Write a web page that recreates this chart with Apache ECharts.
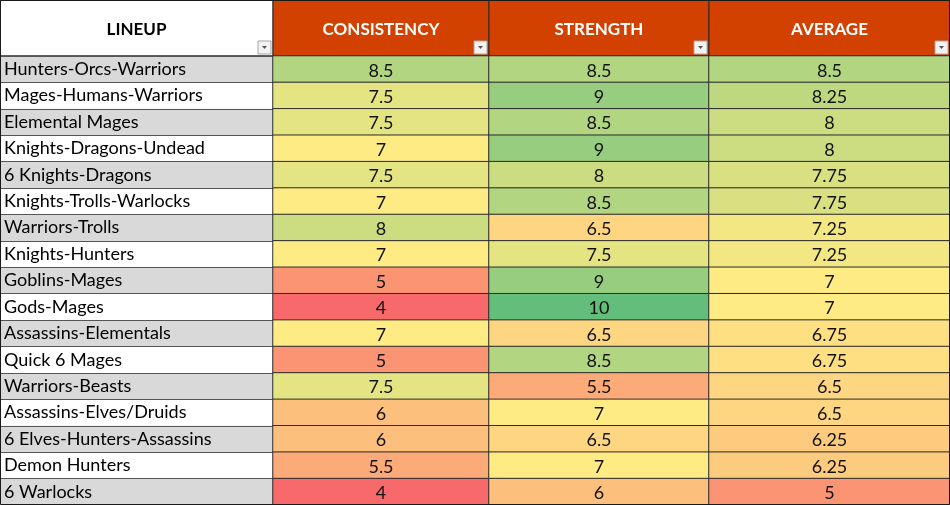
<!DOCTYPE html>
<html><head><meta charset="utf-8">
<script src="https://cdn.jsdelivr.net/npm/echarts@6/dist/echarts.min.js"></script>
<style>html,body{margin:0;padding:0;background:#fff}#c{width:950px;height:505px}</style>
</head><body><div id="c"></div>
<script>
const lineups = ["Hunters-Orcs-Warriors","Mages-Humans-Warriors","Elemental Mages","Knights-Dragons-Undead","6 Knights-Dragons","Knights-Trolls-Warlocks","Warriors-Trolls","Knights-Hunters","Goblins-Mages","Gods-Mages","Assassins-Elementals","Quick 6 Mages","Warriors-Beasts","Assassins-Elves/Druids","6 Elves-Hunters-Assassins","Demon Hunters","6 Warlocks"];
const columnTitles = ["LINEUP","CONSISTENCY","STRENGTH","AVERAGE"];
const consistency = [8.5,7.5,7.5,7,7.5,7,8,7,5,4,7,5,7.5,6,6,5.5,4];
const strength = [8.5,9,8.5,9,8,8.5,6.5,7.5,9,10,6.5,8.5,5.5,7,6.5,7,6];
const average = [8.5,8.25,8,8,7.75,7.75,7.25,7.25,7,7,6.75,6.75,6.5,6.5,6.25,6.25,5];

const FONT = 'Lato';
const cols = [
  {left:0, width:273},
  {left:273, width:216},
  {left:489, width:220},
  {left:709, width:241}
];
const TOP = 56;
const valueCols = [consistency, strength, average];

const grids = cols.map(c => ({left:c.left, width:c.width, top:TOP, bottom:0, show:true, borderColor:'#2b2b2b', borderWidth:1, containLabel:false}));
const xAxes = cols.map((c,i) => ({
  gridIndex:i, type:'category', position:'top', data:[columnTitles[i]],
  axisLine:{show:false}, axisTick:{show:false}, splitLine:{show:false},
  axisLabel:{show:true, margin:18, fontFamily:FONT, fontWeight:'bold', fontSize:17, color: i===0 ? '#000' : '#fff'}
}));
const yAxes = cols.map((c,i) => ({
  gridIndex:i, type:'category', data:lineups, inverse:true,
  axisLine:{show:false}, axisTick:{show:false},
  splitLine:{show:true, lineStyle:{color: i===0 ? '#555' : '#2b2b2b', width:1}},
  splitArea: i===0 ? {show:true, areaStyle:{color:['#D9D9D9','#FFFFFF']}} : {show:false},
  axisLabel: i===0 ? {show:true, inside:true, margin:4, fontFamily:FONT, fontSize:18, color:'#000', align:'left', lineHeight:20, padding:[4,0,0,0]} : {show:false}
}));

const series = valueCols.map((vals,k) => ({
  type:'heatmap', xAxisIndex:k+1, yAxisIndex:k+1,
  data: vals.map((v,j) => [0, j, v]),
  label:{show:true, fontFamily:FONT, fontSize:18, color:'#111', offset:[0,1.5], formatter: p => String(p.value[2])},
  itemStyle:{borderColor:'#2b2b2b', borderWidth:1},
  emphasis:{disabled:true}
}));

const graphics = [];
cols.forEach((c,i) => {
  graphics.push({type:'rect', z:-5, shape:{x:c.left, y:0, width:c.width, height:TOP}, style:{fill: i===0 ? '#FFFFFF' : '#D24100', stroke:'#2b2b2b', lineWidth:1}});
  const bx = c.left + c.width - 15, by = TOP - 15;
  graphics.push({type:'rect', z:5, shape:{x:bx, y:by, width:13, height:13}, style:{fill:'#F3F3F3', stroke:'#A6A6A6', lineWidth:1}});
  graphics.push({type:'polygon', z:6, shape:{points:[[bx+4,by+5],[bx+9,by+5],[bx+6.5,by+8]]}, style:{fill:'#555'}});
});
graphics.push({type:'rect', z:10, shape:{x:0.5, y:0.5, width:949, height:504}, style:{fill:'none', stroke:'#1a1a1a', lineWidth:1}});

const chart = echarts.init(document.getElementById('c'));
chart.setOption({
  animation:false,
  backgroundColor:'#fff',
  grid: grids, xAxis: xAxes, yAxis: yAxes,
  visualMap:{type:'continuous', min:4, max:10, show:false, seriesIndex:[0,1,2], inRange:{color:['#F8696B','#FFEB84','#63BE7B']}},
  graphic: graphics,
  series
});
</script></body></html>
